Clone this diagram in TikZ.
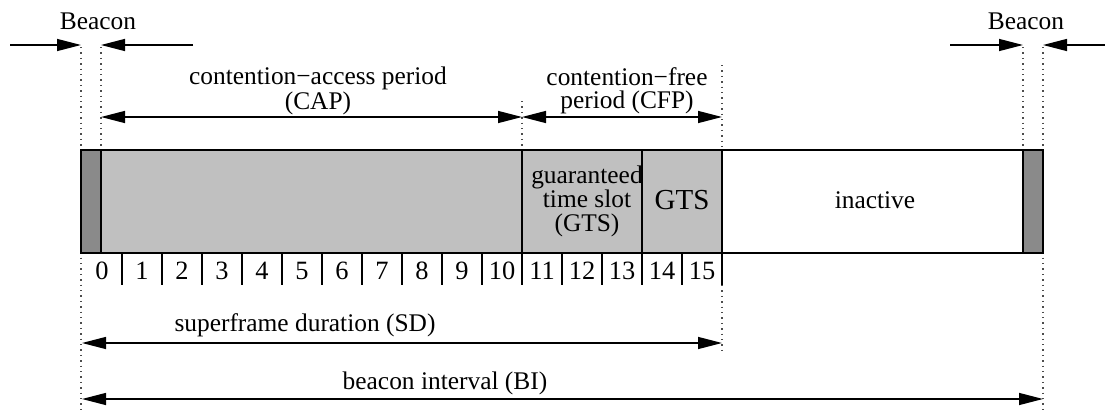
\documentclass[tikz,border=0pt]{standalone}
\usepackage{fontspec}
\setmainfont{Liberation Serif}
\usetikzlibrary{arrows.meta}
\definecolor{lightbox}{RGB}{192,192,192}
\definecolor{darkbox}{RGB}{138,138,138}
\begin{document}
\begin{tikzpicture}[x=0.5pt,y=-0.5pt,
  arr/.style={-{Triangle[length=12pt,width=6pt]}, line width=0.7pt},
  darr/.style={{Triangle[length=12pt,width=6pt]}-{Triangle[length=12pt,width=6pt]}, line width=0.7pt},
  guide/.style={dotted, line width=0.7pt, black!70},
  frame/.style={draw, line width=0.9pt},
  lbl/.style={font=\fontsize{12.7}{11.5}\selectfont, inner sep=0pt, align=center},
  num/.style={font=\fontsize{13.2}{13}\selectfont, inner sep=0pt},
  big/.style={font=\fontsize{14.5}{14.5}\selectfont, inner sep=0pt}]
\useasboundingbox (0,0) rectangle (1105,413);

% coordinates
\coordinate (bl0) at (81,47);  \coordinate (bl0b) at (81,410);
\coordinate (bl1) at (101,47); \coordinate (bl1b) at (101,150);
\coordinate (cf0) at (522,101); \coordinate (cf0b) at (522,150);
\coordinate (sd1) at (722,65); \coordinate (sd1b) at (722,150);
\coordinate (sd1c) at (722,285); \coordinate (sd1d) at (722,355);
\coordinate (br0) at (1023,47); \coordinate (br0b) at (1023,150);
\coordinate (br1) at (1043,47); \coordinate (br1b) at (1043,410);

% dotted guides
\draw[guide] (bl0) -- (bl0b);
\draw[guide] (bl1) -- (bl1b);
\draw[guide] (cf0) -- (cf0b);
\draw[guide] (sd1) -- (sd1b);
\draw[guide] (sd1c) -- (sd1d);
\draw[guide] (br0) -- (br0b);
\draw[guide] (br1) -- (br1b);

% superframe box
\fill[lightbox] (101,150) rectangle (722,253);
\fill[darkbox] (81,150) rectangle (101,253);
\fill[darkbox] (1023,150) rectangle (1043,253);
\draw[frame] (81,150) rectangle (1043,253);
\foreach \xx in {101,522,642,722,1023} \draw[frame] (\xx,150) -- (\xx,253);

% slot ticks and numbers
\foreach \i in {1,...,16} \draw[line width=0.9pt] ({82+40*\i},253) -- ({82+40*\i},285);
\foreach \i in {0,...,15} \node[num] (n\i) at ({102+40*\i},271) {\i};

% box texts
\node[lbl, font=\fontsize{12.7}{12}\selectfont] (gts1) at (587,201) {guaranteed\\time slot\\(GTS)};
\node[big] (gts2) at (682,200) {GTS};
\node[lbl] (inact) at (875,200) {inactive};

% beacon labels and arrows
\node[lbl] (beaconL) at (98,21) {Beacon};
\node[lbl] (beaconR) at (1026,21) {Beacon};
\coordinate (aL0) at (10,45); \coordinate (aL1) at (193,45);
\coordinate (aR0) at (950,45); \coordinate (aR1) at (1105,45);
\draw[arr] (aL0) -- (bl0 |- aL0);
\draw[arr] (aL1) -- (bl1 |- aL1);
\draw[arr] (aR0) -- (br0 |- aR0);
\draw[arr] (aR1) -- (br1 |- aR1);

% CAP / CFP
\coordinate (cap0) at (101,117); \coordinate (cap1) at (522,117);
\coordinate (cfp1) at (722,117);
\draw[darr] (cap0) -- (cap1);
\draw[darr] (cap1) -- (cfp1);
\node[lbl] (capl) at (318,91) {contention−access period\\(CAP)};
\node[lbl] (cfpl) at (627,91) {contention−free\\period (CFP)};

% SD / BI
\coordinate (sd0) at (82,343); \coordinate (sdE) at (722,343);
\coordinate (bi0) at (82,399); \coordinate (biE) at (1043,399);
\draw[darr] (sd0) -- (sdE);
\draw[darr] (bi0) -- (biE);
\node[lbl] (sdl) at (305,325) {superframe duration (SD)};
\node[lbl] (bil) at (445,383) {beacon interval (BI)};
\end{tikzpicture}
\end{document}
